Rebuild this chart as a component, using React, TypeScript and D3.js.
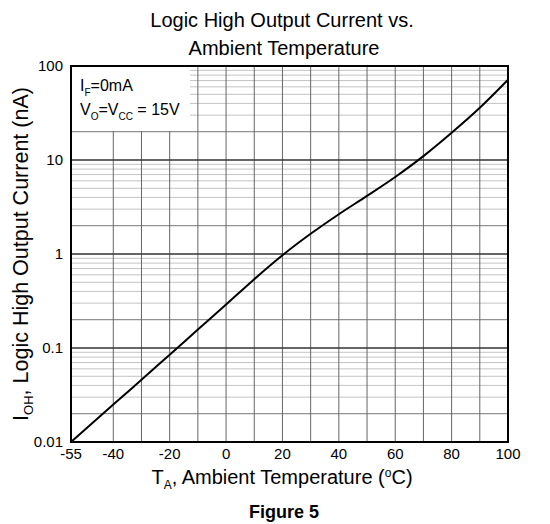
import React from "react";
import * as d3 from "d3";

const temps = [-55, -40, -30, -20, -10, 0, 10, 20, 30, 40, 50, 60, 70, 80, 90, 100];
const currents = [0.01, 0.025, 0.046, 0.085, 0.157, 0.29, 0.54, 0.97, 1.64, 2.65, 4.15, 6.6, 11.0, 19.5, 36, 71.5];
const xTicks = [-55, -40, -20, 0, 20, 40, 60, 80, 100];
const xGrid = [-40, -30, -20, -10, 0, 10, 20, 30, 40, 50, 60, 70, 80, 90];
const yTicks = [0.01, 0.1, 1, 10, 100];
const yTickLabels = ["0.01", "0.1", "1", "10", "100"];

const W = 550, H = 524;
const L = 71, R = 508, T = 66, B = 442;
const FONT = "'Liberation Sans', Arial, sans-serif";

export default function App() {
  const x = d3.scaleLinear().domain([-55, 100]).range([L, R]);
  const y = d3.scaleLog().domain([0.01, 100]).range([B, T]);
  const line = d3.line<number>().x((_, i) => x(temps[i])).y((d) => y(d)).curve(d3.curveCatmullRom.alpha(0.5));

  const minor: { v: number; m: number }[] = [];
  for (let e = -2; e < 2; e++) {
    for (let m = 2; m <= 9; m++) minor.push({ v: m * Math.pow(10, e), m });
  }
  const boxR = 190, boxB = 131;

  return (
    <svg width={W} height={H} style={{ position: "absolute", left: 0, top: 0, background: "#fff" }} fontFamily={FONT}>
      <rect x={0} y={0} width={W} height={H} fill="#fff" />
      {minor.map((d, i) => (
        <line key={"mh" + i} x1={L} x2={R} y1={y(d.v)} y2={y(d.v)}
          stroke={d.m === 2 ? "#777" : "#c4c4c4"} strokeWidth={1} />
      ))}
      {xGrid.map((t) => (
        <line key={"vg" + t} x1={x(t)} x2={x(t)} y1={T} y2={B} stroke="#666" strokeWidth={1} />
      ))}
      {yTicks.slice(1, 4).map((v) => (
        <line key={"mj" + v} x1={L} x2={R} y1={y(v)} y2={y(v)} stroke="#333" strokeWidth={1.3} />
      ))}
      <rect x={L} y={T} width={boxR - L} height={boxB - T} fill="#fff" />
      <path d={line(currents) || ""} fill="none" stroke="#000" strokeWidth={2} />
      <rect x={L} y={T} width={R - L} height={B - T} fill="none" stroke="#000" strokeWidth={2} />
      {yTicks.map((v, i) => (
        <text key={"yt" + v} x={L - 8} y={y(v) + 5} textAnchor="end" fontSize={15} fill="#000">{yTickLabels[i]}</text>
      ))}
      {xTicks.map((t) => (
        <text key={"xt" + t} x={x(t)} y={459} textAnchor="middle" fontSize={15} fill="#000">{t}</text>
      ))}
      <text x={80} y={91} fontSize={16} fill="#000">
        I<tspan fontSize={10} dy={5}>F</tspan><tspan dy={-5}>=0mA</tspan>
      </text>
      <text x={80} y={115} fontSize={16} fill="#000">
        V<tspan fontSize={10} dy={5}>O</tspan><tspan dy={-5}>=V</tspan><tspan fontSize={10} dy={5}>CC</tspan><tspan dy={-5}> = 15V</tspan>
      </text>
      <text x={282} y={27} textAnchor="middle" fontSize={20} fill="#000">Logic High Output Current vs.</text>
      <text x={284} y={55} textAnchor="middle" fontSize={20} fill="#000">Ambient Temperature</text>
      <text x={282} y={484} textAnchor="middle" fontSize={20} fill="#000">
        T<tspan fontSize={12} dy={5}>A</tspan><tspan dy={-5}>, Ambient Temperature (</tspan><tspan fontSize={12} dy={-7}>o</tspan><tspan dy={7}>C)</tspan>
      </text>
      <text transform={`translate(28, ${(T + B) / 2}) rotate(-90)`} textAnchor="middle" fontSize={21.5} fill="#000">
        I<tspan fontSize={13} dy={5}>OH</tspan><tspan dy={-5}>, Logic High Output Current (nA)</tspan>
      </text>
      <text x={284} y={518} textAnchor="middle" fontSize={18} fontWeight="bold" fill="#000">Figure 5</text>
    </svg>
  );
}
